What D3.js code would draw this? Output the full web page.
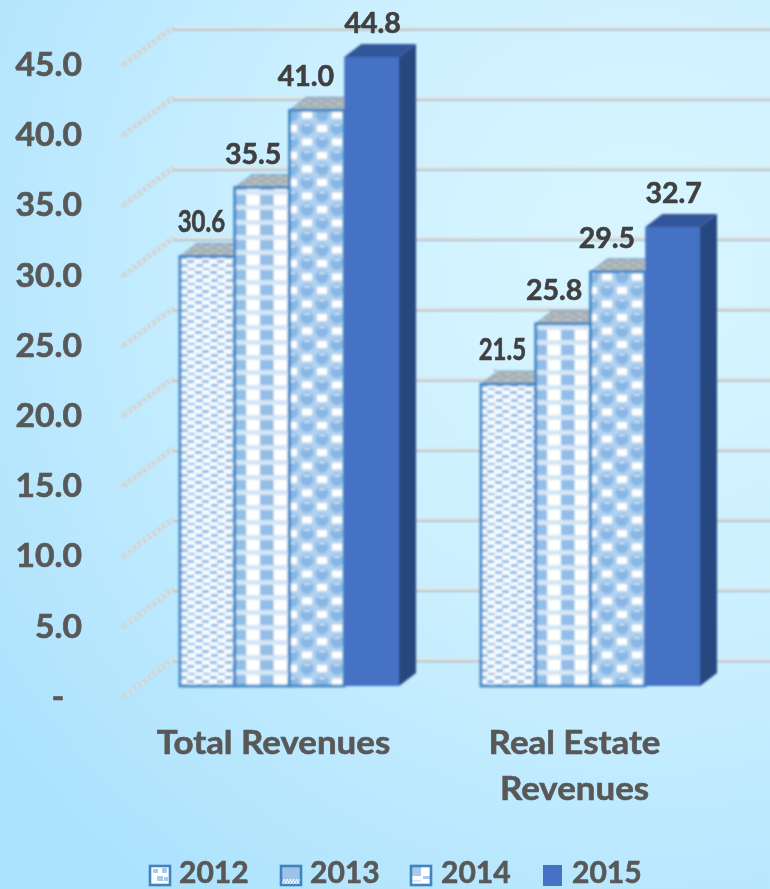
<!DOCTYPE html>
<html>
<head>
<meta charset="utf-8">
<script src="https://cdn.jsdelivr.net/npm/d3@7"></script>
<style>
    html, body { margin: 0; padding: 0; background: #bfeafe; }
    svg { display: block; }
    text { font-family: Lato, "Open Sans", sans-serif; font-weight: 700; paint-order: stroke; }
</style>
</head>
<body>
<div id="chart"></div>
<script>
//Datos
const categorias = [['Total Revenues'], ['Real Estate', 'Revenues']];
const series = ['2012', '2013', '2014', '2015'];
const valores2012 = [30.6, 21.5];
const valores2013 = [35.5, 25.8];
const valores2014 = [41.0, 29.5];
const valores2015 = [44.8, 32.7];
const ticks = [0, 5, 10, 15, 20, 25, 30, 35, 40, 45];

//Colores fijos
const COLOR_BLUE = '#4472C4',
COLOR_BLUE_TOP = '#335699',
COLOR_BLUE_SIDE = '#28467F',
COLOR_EDGE = '#3F86C4',
COLOR_TINT = '#A6CBEC',
COLOR_AXIS = '#595959',
COLOR_LABEL = '#404040';

let width = 770, height = 889;
let baseY = 686, axisShift = 11, wallShift = -26;
let depthX = 17, depthY = 13;

let svg = d3.select('#chart').append('svg')
    .attr('width', width)
    .attr('height', height);

let defs = svg.append('defs');

//Fondo
let bg = defs.append('radialGradient')
    .attr('id', 'bg')
    .attr('gradientUnits', 'userSpaceOnUse')
    .attr('cx', 640).attr('cy', 260).attr('r', 800);
bg.append('stop').attr('offset', '0%').attr('stop-color', '#D8F6FF');
bg.append('stop').attr('offset', '45%').attr('stop-color', '#CCF0FF');
bg.append('stop').attr('offset', '100%').attr('stop-color', '#ACE2FD');

function blur(id, s) {
    defs.append('filter').attr('id', id)
        .attr('x', '-5%').attr('y', '-5%').attr('width', '110%').attr('height', '110%')
        .append('feGaussianBlur').attr('stdDeviation', s);
}
blur('soft', 0.8);
blur('softText', 0.35);

//Tramas
function tile(id, w, h, fondo) {
    let p = defs.append('pattern')
        .attr('id', id)
        .attr('patternUnits', 'userSpaceOnUse')
        .attr('width', w)
        .attr('height', h);
    p.append('rect').attr('width', w).attr('height', h).attr('fill', fondo);
    return p;
}

function block(p, x, y, w, h, color) {
    p.append('rect').attr('x', x).attr('y', y).attr('width', w).attr('height', h).attr('fill', color);
}

//2012
let p2012 = tile('p2012', 15, 15, '#F8FCFF');
[[0, 1], [7, 5], [1, 9], [8, 13]].forEach(function(d) {
    block(p2012, d[0], d[1], 7, 3, '#8BB9E6');
});

//2013
let p2013 = tile('p2013', 27.36, 15, '#FFFFFF');
block(p2013, 13.68, 0, 13.68, 10, '#92BEE8');
d3.range(0, 27, 4).forEach(function(i) {
    block(p2013, i, 10, 2, 2.5, COLOR_TINT);
    block(p2013, i + 2, 12.5, 2, 2.5, COLOR_TINT);
});

//2014
let p2014 = tile('p2014', 30, 27, '#B0D1EF');
[[7, 7], [22, 20.5]].forEach(function(d) {
    block(p2014, d[0] - 5, d[1] - 3.5, 10, 7, '#FFFFFF');
});
[[22, 7], [7, 20.5]].forEach(function(d) {
    p2014.append('circle').attr('cx', d[0]).attr('cy', d[1]).attr('r', 6.5).attr('fill', '#88B7E5');
    block(p2014, d[0] - 3, d[1] - 4.5, 6, 1.5, '#E6F2FB');
});

//Tapas de las barras
let pTop = tile('pTop', 12, 6, '#A5B1B7');
block(pTop, 1, 1, 5, 1.5, '#C2CBCF');
block(pTop, 7, 4, 4, 1.5, '#BDC7CC');

//Cuadros de la leyenda (la trama se ve ampliada)
function swatchTile(id, xpos) {
    let p = tile(id, 21, 21, '#FFFFFF').attr('x', xpos).attr('y', 865);
    return p;
}
let legendPos = [149, 280, 410, 543];
let l2012 = swatchTile('l2012', legendPos[0]);
[[4, 4, 5, 4], [13, 3, 5, 5], [8, 11, 6, 5], [15, 12, 4, 4]].forEach(function(d) { block(l2012, d[0], d[1], d[2], d[3], '#A6CBEC'); });
let l2013 = swatchTile('l2013', legendPos[1]);
block(l2013, 0, 0, 21, 14, '#9DC3E8');
d3.range(2, 20, 3).forEach(function(i) {
    block(l2013, i, 14, 1.5, 2, '#9DC3E8');
    block(l2013, i + 1.5, 16, 1.5, 2, '#9DC3E8');
});
let l2014 = swatchTile('l2014', legendPos[2]);
block(l2014, 2, 2, 9, 9, '#A6CBEC');
block(l2014, 13, 11, 7, 3, '#A6CBEC');
block(l2014, 2, 15, 9, 1.5, '#D2E4F5');

svg.append('rect').attr('width', width).attr('height', height).attr('fill', 'url(#bg)');

//Escalas
let y = d3.scaleLinear().domain([0, 45]).range([baseY, baseY - 45 * 14.04]);

let x0 = d3.scaleBand()
    .domain(d3.range(categorias.length))
    .range([180, 700])
    .paddingInner(82 / 301);

let x1 = d3.scaleBand()
    .domain(series)
    .range([0, x0.bandwidth()]);

let datos = series.map(function(s, i) {
    return { serie: s, i: i, valores: [valores2012, valores2013, valores2014, valores2015][i] };
});

//Rejilla del fondo
let wallGap = 49, wallRise = 37;
let wallX = 172;
let grid = svg.append('g').attr('class', 'grid').attr('filter', 'url(#soft)');

ticks.forEach(function(t) {
    let gy = y(t) + wallShift;
    grid.append('line')
        .attr('x1', wallX).attr('x2', width + 10)
        .attr('y1', gy).attr('y2', gy)
        .attr('stroke', '#DCE7EB').attr('stroke-width', 4.5);
    grid.append('line')
        .attr('x1', wallX).attr('x2', width + 10)
        .attr('y1', gy + 1.5).attr('y2', gy + 1.5)
        .attr('stroke', '#AEB8BC').attr('stroke-width', 1.5);
    grid.append('line')
        .attr('x1', wallX).attr('x2', wallX - wallGap)
        .attr('y1', gy).attr('y2', gy + wallRise)
        .attr('stroke', '#C6CFD3').attr('stroke-width', 4)
        .attr('stroke-linecap', 'round');
    grid.append('line')
        .attr('x1', wallX).attr('x2', wallX - wallGap)
        .attr('y1', gy).attr('y2', gy + wallRise)
        .attr('stroke', '#F2F5F6').attr('stroke-width', 1.8)
        .attr('stroke-dasharray', '3 3');
});

//Eje vertical
let yAxis = d3.axisLeft(y)
    .tickValues(ticks)
    .tickSize(0)
    .tickFormat(function(d) { return d === 0 ? '-' : d.toFixed(1); });

let axisG = svg.append('g')
    .attr('class', 'yaxis')
    .attr('transform', 'translate(82,' + axisShift + ')')
    .attr('filter', 'url(#softText)')
    .call(yAxis);

axisG.select('.domain').remove();
axisG.selectAll('text')
    .attr('x', 0)
    .attr('transform', 'scale(1.05,1)')
    .attr('fill', COLOR_AXIS)
    .attr('stroke', COLOR_AXIS)
    .attr('stroke-width', 0.7)
    .style('font-size', '32px')
    .style('font-family', 'Lato, sans-serif')
    .style('font-weight', 700);
//El guion va centrado bajo los números
axisG.selectAll('.tick').filter(function(d) { return d === 0; }).select('text').attr('x', -17);

//Barras
let bars = svg.append('g').attr('class', 'chart-g').attr('filter', 'url(#soft)');

datos.forEach(function(s) {
    let g = bars.append('g');
    let relleno = s.i === 3 ? COLOR_BLUE : 'url(#p' + s.serie + ')';
    let edge = s.i === 3 ? 'none' : COLOR_EDGE;

    s.valores.forEach(function(v, c) {
        let xa = x0(c) + x1(s.serie),
            xb = xa + x1.bandwidth(),
            top = y(v),
            bottom = y(0);

        //lateral
        g.append('path')
            .attr('d', d3.line()([[xb, top], [xb + depthX, top - depthY], [xb + depthX, bottom - depthY], [xb, bottom]]) + 'Z')
            .attr('fill', COLOR_BLUE_SIDE);
        //tapa
        g.append('path')
            .attr('d', d3.line()([[xa, top], [xa + depthX, top - depthY], [xb + depthX, top - depthY], [xb, top]]) + 'Z')
            .attr('fill', s.i === 3 ? COLOR_BLUE_TOP : 'url(#pTop)')
            .attr('stroke', s.i === 3 ? 'none' : '#6FA0C8')
            .attr('stroke-width', 1);
        //la rejilla asoma sobre dos tapas de la segunda columna
        if (c === 1 && s.i < 2) {
            g.append('line')
                .attr('x1', xa + 13).attr('y1', top - 15)
                .attr('x2', xa + 26).attr('y2', top - 1)
                .attr('stroke', '#BDB3AC').attr('stroke-width', 1.6);
        }
        //frente
        g.append('rect')
            .attr('x', xa).attr('y', top)
            .attr('width', x1.bandwidth())
            .attr('height', bottom - top)
            .attr('fill', relleno)
            .attr('stroke', edge)
            .attr('stroke-width', 2.8);
    });
});

//Etiquetas de las barras
let labelDx = [-6, -9, -11, 1];
let labelStretch = [0.8, 1.02, 1.02, 1.02];
let labelSize = [30, 28, 28, 28];
let labels = svg.append('g').attr('filter', 'url(#softText)');

datos.forEach(function(s) {
    s.valores.forEach(function(v, c) {
        let cx = x0(c) + x1(s.serie) + x1.bandwidth() / 2 + labelDx[s.i];
        labels.append('text')
            .attr('transform', 'translate(' + cx + ',' + (y(v) - 24) + ') scale(' + labelStretch[s.i] + ',1)')
            .attr('text-anchor', 'middle')
            .attr('fill', COLOR_LABEL)
            .attr('stroke', COLOR_LABEL)
            .attr('stroke-width', 0.6)
            .style('font-size', labelSize[s.i] + 'px')
            .text(v.toFixed(1));
    });
});

//Categorías
let catG = svg.append('g').attr('filter', 'url(#softText)');
categorias.forEach(function(lineas, c) {
    let cx = x0(c) + x0.bandwidth() / 2 - 16;
    lineas.forEach(function(l, i) {
        catG.append('text')
            .attr('transform', 'translate(' + cx + ',' + (754 + i * 46) + ') scale(1.09,1)')
            .attr('text-anchor', 'middle')
            .attr('fill', COLOR_AXIS)
            .attr('stroke', COLOR_AXIS)
            .attr('stroke-width', 0.6)
            .style('font-size', '32px')
            .text(l);
    });
});

//Leyenda
let legendG = svg.append('g').attr('filter', 'url(#softText)');
let legendTextX = [179, 310, 441, 572];

series.forEach(function(s, i) {
    let lx = legendPos[i];
    if (i === 3) {
        legendG.append('rect')
            .attr('x', lx).attr('y', 865)
            .attr('width', 19).attr('height', 21)
            .attr('fill', COLOR_BLUE);
    } else {
        legendG.append('rect')
            .attr('x', lx + 1).attr('y', 866)
            .attr('width', 20).attr('height', 19)
            .attr('fill', 'url(#l' + s + ')')
            .attr('stroke', '#3F83BE')
            .attr('stroke-width', 2.6);
    }
    legendG.append('text')
        .attr('transform', 'translate(' + legendTextX[i] + ',882.5)')
        .attr('fill', COLOR_AXIS)
        .attr('stroke', COLOR_AXIS)
        .attr('stroke-width', 0.6)
        .style('font-size', '30px')
        .text(s);
});
</script>
</body>
</html>
